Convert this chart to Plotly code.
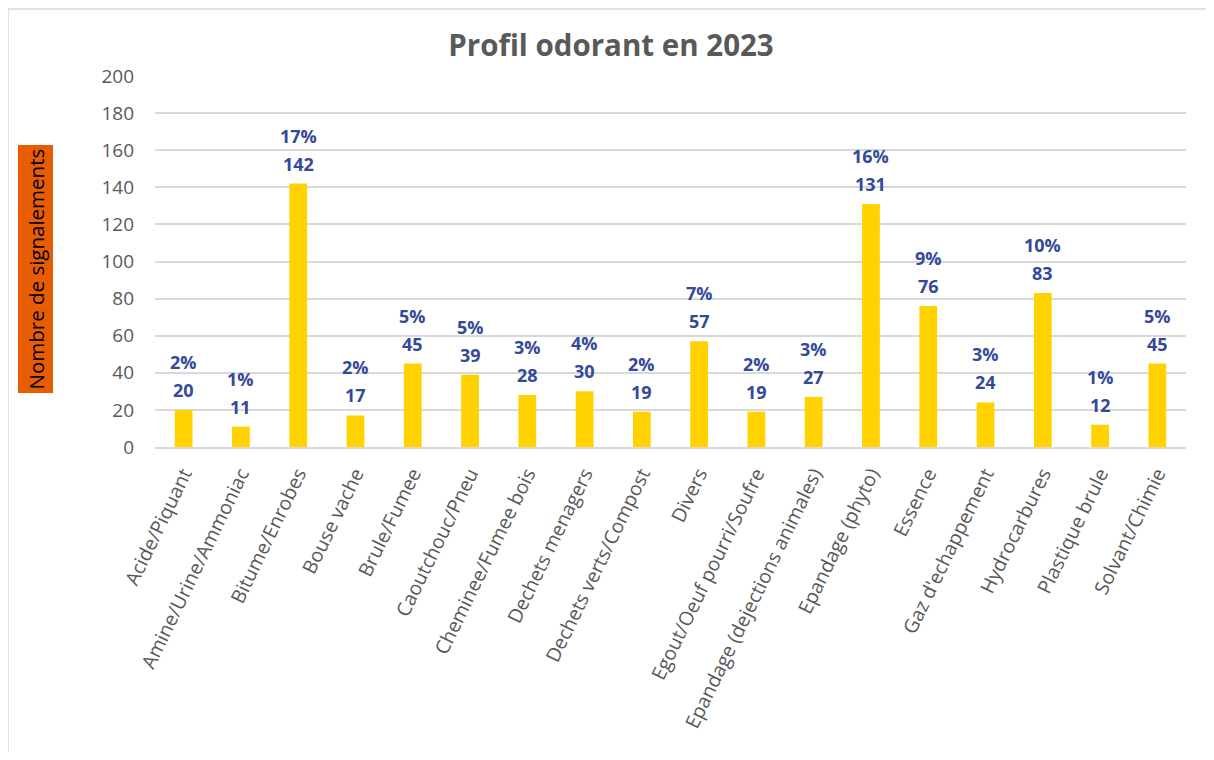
import plotly.graph_objects as go

categories = [
    "Acide/Piquant", "Amine/Urine/Ammoniac", "Bitume/Enrobes", "Bouse vache",
    "Brule/Fumee", "Caoutchouc/Pneu", "Cheminee/Fumee bois", "Dechets menagers",
    "Dechets verts/Compost", "Divers", "Egout/Oeuf pourri/Soufre",
    "Epandage (dejections animales)", "Epandage (phyto)", "Essence",
    "Gaz d'echappement", "Hydrocarbures", "Plastique brule", "Solvant/Chimie",
]
counts = [20, 11, 142, 17, 45, 39, 28, 30, 19, 57, 19, 27, 131, 76, 24, 83, 12, 45]
percents = ["2%", "1%", "17%", "2%", "5%", "5%", "3%", "4%", "2%", "7%", "2%", "3%",
            "16%", "9%", "3%", "10%", "1%", "5%"]
y_ticks = [0, 20, 40, 60, 80, 100, 120, 140, 160, 180, 200]

# page body has an 8px margin; figure is sized to fit the 1214x760 window
OFF = 8
W, H = 1198, 744
L, T = 155 - OFF, 76 - OFF
R = W - (1186 - OFF)
B = H - (447 - OFF)
pw, ph = W - L - R, H - T - B

def px_to_paper_x(px):
    return (px - OFF - L) / pw

def px_to_paper_y(py):
    return (H - B - (py - OFF)) / ph

FONT = "Open Sans, Noto Sans, sans-serif"
LABEL_COLOR = "#34499A"

fig = go.Figure()
fig.add_trace(go.Bar(
    x=categories,
    y=counts,
    marker=dict(color="#FFD200", line=dict(width=0)),
    width=0.31,
    hoverinfo="skip",
))

annotations = []
for cat, cnt, pct in zip(categories, counts, percents):
    annotations.append(dict(
        x=cat, y=cnt, xref="x", yref="y",
        text=f"<b>{cnt}</b>", showarrow=False,
        xanchor="center", yanchor="middle", yshift=20,
        font=dict(family=FONT, size=18, color=LABEL_COLOR),
    ))
    annotations.append(dict(
        x=cat, y=cnt, xref="x", yref="y",
        text=f"<b>{pct}</b>", showarrow=False,
        xanchor="center", yanchor="middle", yshift=48,
        font=dict(family=FONT, size=18, color=LABEL_COLOR),
    ))

annotations.append(dict(
    text="Nombre de signalements",
    textangle=-90,
    xref="paper", yref="paper",
    x=px_to_paper_x(35), y=px_to_paper_y(269.5),
    xanchor="center", yanchor="middle",
    showarrow=False,
    font=dict(family=FONT, size=20.5, color="#000000"),
    bgcolor="#E85D04",
    borderpad=3,
))

fig.update_layout(
    width=W, height=H,
    margin=dict(l=L, r=R, t=T, b=B, autoexpand=False),
    paper_bgcolor="white",
    plot_bgcolor="white",
    showlegend=False,
    title=dict(
        text="<b>Profil odorant en 2023</b>",
        x=(611 - OFF) / W, xanchor="center",
        xref="container", yref="container",
        y=1 - (46 - OFF) / H, yanchor="middle",
        font=dict(family=FONT, size=29.5, color="#595959"),
    ),
    xaxis=dict(
        type="category",
        tickangle=-64,
        tickfont=dict(family=FONT, size=19.5, color="#595959"),
        showgrid=False,
        showline=True, linecolor="#D9D9D9", linewidth=1.5,
        ticks="",
        ticklabelstandoff=6,
        automargin=False,
    ),
    yaxis=dict(
        range=[0, 200],
        tickvals=y_ticks,
        tickfont=dict(family=FONT, size=19, color="#595959"),
        showgrid=True, gridcolor="#D9D9D9", gridwidth=1.5,
        zeroline=False,
        showline=False,
        ticks="",
        ticklabelstandoff=20,
        automargin=False,
    ),
    shapes=[
        dict(type="line", xref="paper", yref="paper",
             x0=px_to_paper_x(7), x1=px_to_paper_x(1220),
             y0=px_to_paper_y(9), y1=px_to_paper_y(9),
             line=dict(color="#D9D9D9", width=1.5)),
        dict(type="line", xref="paper", yref="paper",
             x0=px_to_paper_x(8), x1=px_to_paper_x(8),
             y0=px_to_paper_y(9), y1=px_to_paper_y(770),
             line=dict(color="#D9D9D9", width=1.5)),
    ],
    annotations=annotations,
)

fig.write_html("out.html")
